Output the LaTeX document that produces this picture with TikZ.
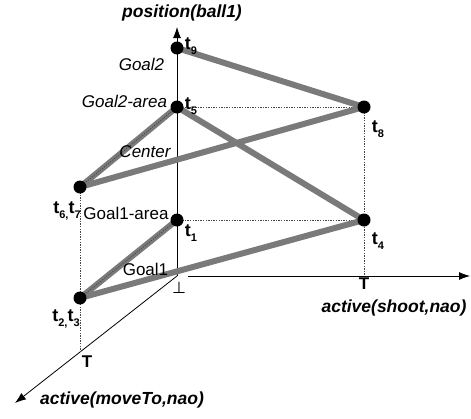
\documentclass[tikz,border=0pt]{standalone}
\usepackage{fontspec}
\setmainfont{Liberation Sans}
\newfontfamily\symfont{DejaVu Sans}
\usetikzlibrary{arrows.meta,backgrounds}
\definecolor{trackgray}{RGB}{122,122,122}
\definecolor{guidegray}{RGB}{70,70,70}
\newcommand\tsub[1]{t\raisebox{-5pt}{\fontsize{11}{11}\selectfont #1}}
\begin{document}
\begin{tikzpicture}[x=1pt,y=-1pt,
  dot/.style={circle,fill=black,inner sep=0pt,minimum size=13pt},
  track/.style={line width=6pt,draw=trackgray},
  axis/.style={line width=0.8pt,draw=black,-{Latex[length=11pt,width=8pt]}},
  guide/.style={draw=guidegray,line width=0.7pt,dash pattern=on 1.3pt off 1.3pt},
  lbl/.style={font=\fontsize{17}{20}\selectfont,inner sep=0pt,anchor=base},
  ilbl/.style={font=\fontsize{17}{20}\selectfont\itshape,inner sep=0pt,anchor=base},
  albl/.style={font=\fontsize{17.5}{20}\selectfont\bfseries\itshape,inner sep=0pt,anchor=base},
  tl/.style={font=\fontsize{18}{20}\selectfont\bfseries,inner sep=0pt},
  Tl/.style={font=\fontsize{17}{20}\selectfont\bfseries,inner sep=0pt}]
\useasboundingbox (0,0) rectangle (471,418);

% axes
\coordinate (O) at (177,276);
\coordinate (Oh) at (188,276);
\coordinate (Yend) at (177,27);
\coordinate (Xend) at (470,276);
\coordinate (Zend) at (15,403);
\coordinate (Tx) at (364,276);
\coordinate (Tz) at (80,352);

% points
\node[dot] (t9) at (177,48) {};
\node[dot] (t5) at (177,107) {};
\node[dot] (t8) at (364,107) {};
\node[dot] (t67) at (80,187) {};
\node[dot] (t1) at (177,220) {};
\node[dot] (t4) at (364,220) {};
\node[dot] (t23) at (80,298) {};

\begin{pgfonlayer}{background}
  \draw[axis] (O) -- (Yend);
  \draw[axis] (Oh) -- (Xend);
  \draw[axis] (O) -- (Zend);
  % guide lines
  \draw[guide] (t5.center) -- (t8.center);
  \draw[guide] (t8.center) -- (Tx);
  \draw[guide] (t1.center) -- (t4.center);
  \draw[guide] (t67.center) -- (Tz);
  % trajectory
  \draw[track] (t9.center) -- (t8.center);
  \draw[track] (t8.center) -- (t67.center);
  \draw[track] (t67.center) -- (t5.center);
  \draw[track] (t5.center) -- (t4.center);
  \draw[track] (t4.center) -- (t23.center);
  \draw[track] (t23.center) -- (t1.center);
  \draw[guide] (t67.center) -- (t5.center);
  \draw[guide] (t23.center) -- (t1.center);
\end{pgfonlayer}

% axis labels
\node[albl] (ylab) at (182,17) {position(ball1)};
\node[albl] (xlab) at (394,312) {active(shoot,nao)};
\node[albl] (zlab) at (122,404) {active(moveTo,nao)};

% region labels
\node[ilbl] (goal2) at (141.5,70) {Goal2};
\node[ilbl] (goal2area) at (124.5,107) {Goal2-area};
\node[ilbl] (center) at (145,157) {Center};
\node[lbl] (goal1area) at (126,219) {Goal1-area};
\node[lbl] (goal1) at (145.5,275) {Goal1};
\node[inner sep=0pt,font=\fontsize{16}{16}\selectfont\symfont] (bot) at (179,288) {⊥};
\node[Tl] (Txl) at (364,284) {T};
\node[Tl] (Tzl) at (87,362) {T};

% time labels
\node[tl] (l9) at (191,46) {\tsub{9}};
\node[tl] (l5) at (191,106) {\tsub{5}};
\node[tl] (l8) at (378,129) {\tsub{8}};
\node[tl] (l1) at (191,233) {\tsub{1}};
\node[tl] (l4) at (378,241) {\tsub{4}};
\node[tl] (l67) at (67,211) {\tsub{6,}\tsub{7}};
\node[tl] (l23) at (66,319) {\tsub{2,}\tsub{3}};
\end{tikzpicture}
\end{document}
